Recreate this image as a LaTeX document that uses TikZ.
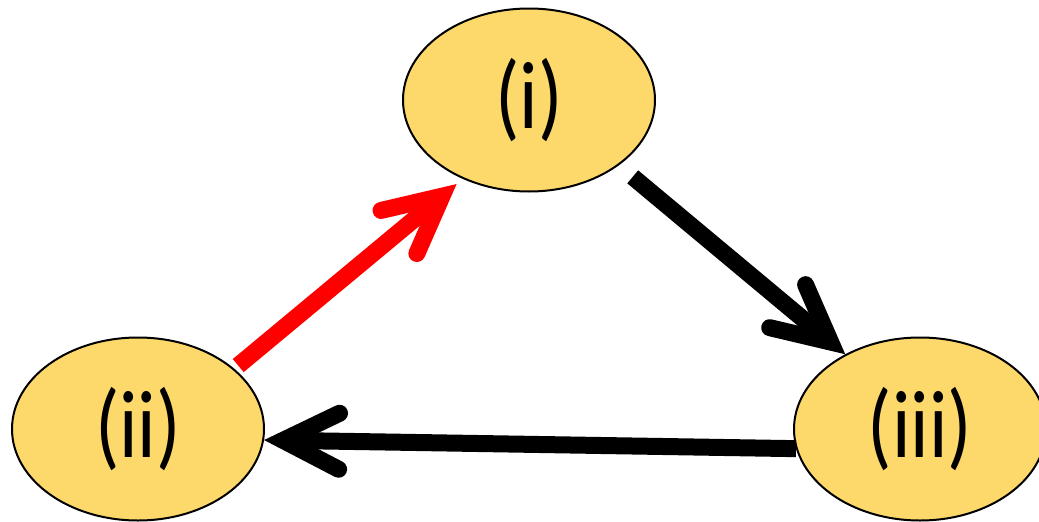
\documentclass[tikz,border=0pt]{standalone}
\usepackage{fontspec}
\usepackage{graphicx}
\setmainfont{Carlito}
\usetikzlibrary{arrows.meta,shapes.geometric}
\definecolor{stagefill}{RGB}{253,216,106}
\definecolor{loopred}{RGB}{255,0,0}
% narrow, slightly lowered label for a stage
\newcommand\stagelabel[1]{\raisebox{-4pt}{\scalebox{0.84}[1]{#1}}}
\tikzset{
  stage/.style={ellipse, draw=black, line width=2pt, fill=stagefill,
    minimum width=252pt, minimum height=183pt, inner sep=0pt,
    font=\fontsize{96}{100}\selectfont},
  flow/.style={line width=17pt, line cap=butt,
    -{Straight Barb[length=56pt, width=56pt, line cap=round, line join=miter]}},
}
\begin{document}
\begin{tikzpicture}[x=1pt, y=-1pt]
  \useasboundingbox (0,0) rectangle (1039,522);
  % the three stages of the cycle
  \node[stage] (i)   at (529,100) {\stagelabel{(i)}};
  \node[stage] (ii)  at (138,429) {\stagelabel{(ii)}};
  \node[stage] (iii) at (920,429) {\stagelabel{(iii)}};
  % transitions between the stages
  \draw[flow, loopred, shorten <=5pt, shorten >=8pt] (ii.32) -- (i.230);
  \draw[flow, black, shorten <=18pt] (i.-36) -- (iii.135);
  \draw[flow, black] (iii.189.5) -- (ii.-5);
\end{tikzpicture}
\end{document}
